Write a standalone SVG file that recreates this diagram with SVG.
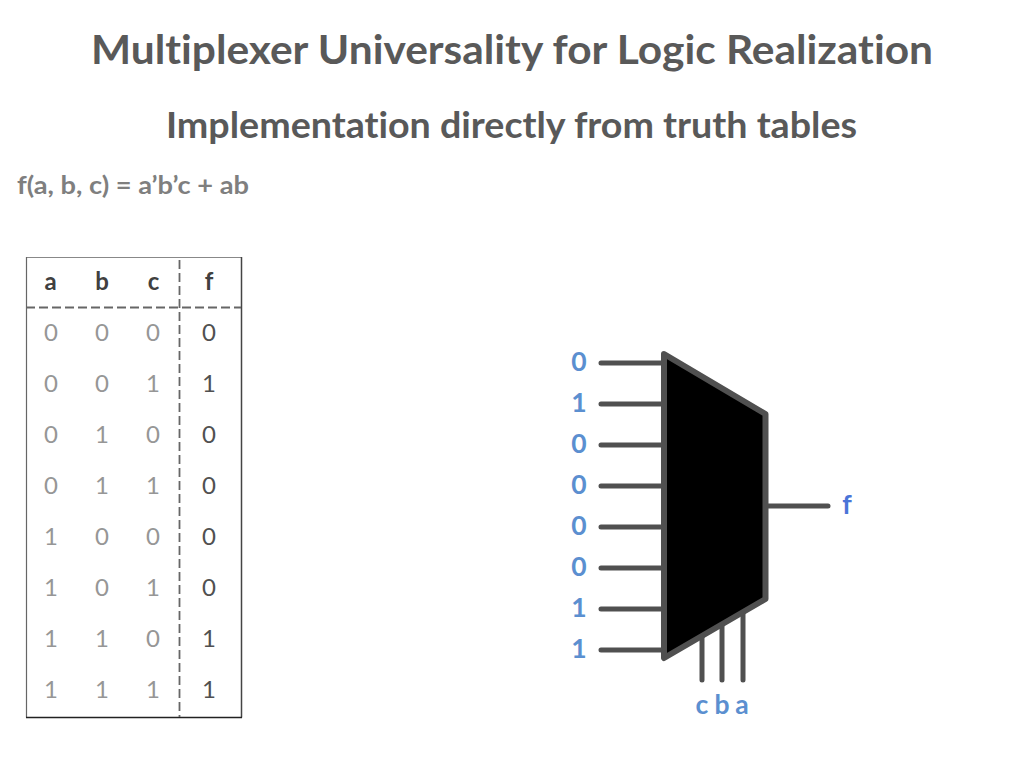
<svg xmlns="http://www.w3.org/2000/svg" width="1024" height="768" viewBox="0 0 1024 768">
<style>
text{font-family:Lato,"Open Sans","Liberation Sans",sans-serif;font-variant-ligatures:none}
.h{font-weight:700;fill:#595959;text-anchor:middle}
.th{font-weight:700;font-size:24px;fill:#404040;text-anchor:middle}
.d{font-size:24px;fill:#969696;text-anchor:middle}
.o{font-size:24px;fill:#505050;text-anchor:middle}
.l{font-weight:700;font-size:26.500px;fill:#5b8fd0;text-anchor:middle}
.w{stroke:#505050;stroke-width:5;stroke-linecap:round;fill:none}
.dash{stroke:#666;stroke-width:1.800;stroke-dasharray:9 4;fill:none}
</style>
<rect width="1024" height="768" fill="#fff"/>
<text class="h" x="512" y="64" font-size="40" textLength="842" lengthAdjust="spacingAndGlyphs">Multiplexer Universality for Logic Realization</text>
<text class="h" x="511.500" y="138" font-size="36" textLength="691" lengthAdjust="spacingAndGlyphs">Implementation directly from truth tables</text>
<text x="17" y="194" font-size="24" font-weight="700" fill="#7f7f7f" textLength="232" lengthAdjust="spacingAndGlyphs">f(a, b, c) = a’b’c + ab</text>
<g id="truth-table">
<path d="M26.500 257.500H241.500" stroke="#888" stroke-width="1" fill="none"/>
<path d="M26.500 257V717.500" stroke="#666" stroke-width="1.200" fill="none"/>
<path d="M241.500 257V717.500" stroke="#444" stroke-width="1.500" fill="none"/>
<path d="M26 717.500H242" stroke="#222" stroke-width="1.500" fill="none"/>
<path class="dash" d="M26 307.500H241"/>
<path class="dash" d="M179.500 260V717"/>
<text class="th" x="50.500" y="290">a</text><text class="th" x="102" y="290">b</text><text class="th" x="153.500" y="290">c</text><text class="th" x="209" y="290">f</text>
<g>
<text class="d" x="51" y="341">0</text><text class="d" x="102" y="341">0</text><text class="d" x="153" y="341">0</text>
<text class="d" x="51" y="392">0</text><text class="d" x="102" y="392">0</text><text class="d" x="153" y="392">1</text>
<text class="d" x="51" y="443">0</text><text class="d" x="102" y="443">1</text><text class="d" x="153" y="443">0</text>
<text class="d" x="51" y="494">0</text><text class="d" x="102" y="494">1</text><text class="d" x="153" y="494">1</text>
<text class="d" x="51" y="545">1</text><text class="d" x="102" y="545">0</text><text class="d" x="153" y="545">0</text>
<text class="d" x="51" y="596">1</text><text class="d" x="102" y="596">0</text><text class="d" x="153" y="596">1</text>
<text class="d" x="51" y="647">1</text><text class="d" x="102" y="647">1</text><text class="d" x="153" y="647">0</text>
<text class="d" x="51" y="698">1</text><text class="d" x="102" y="698">1</text><text class="d" x="153" y="698">1</text>
</g>
<text class="o" x="209" y="341">0</text><text class="o" x="209" y="392">1</text><text class="o" x="209" y="443">0</text><text class="o" x="209" y="494">0</text><text class="o" x="209" y="545">0</text><text class="o" x="209" y="596">0</text><text class="o" x="209" y="647">1</text><text class="o" x="209" y="698">1</text>
</g>
<g id="connectors">
<path class="w" d="M601 363H664M601 404H664M601 445H664M601 486H664M601 527H664M601 568H664M601 609H664M601 650H664"/>
<path class="w" d="M768 506H828"/>
<path class="w" d="M702 635V680M722 625V680M743 613V680"/>
</g>
<g id="mux">
<path d="M664 354L765.500 414V599L664 658Z" fill="#000" stroke="#505050" stroke-width="6" stroke-linejoin="round"/>
</g>
<g id="labels">
<text class="l" x="579" y="371">0</text><text class="l" x="579" y="412">1</text><text class="l" x="579" y="453">0</text><text class="l" x="579" y="494">0</text><text class="l" x="579" y="535">0</text><text class="l" x="579" y="576">0</text><text class="l" x="579" y="617">1</text><text class="l" x="579" y="658">1</text>
<text class="l" x="847" y="514" style="fill:#4a75d8">f</text>
<text class="l" x="702" y="714">c</text><text class="l" x="722" y="714">b</text><text class="l" x="742" y="714">a</text>
</g>
</svg>
